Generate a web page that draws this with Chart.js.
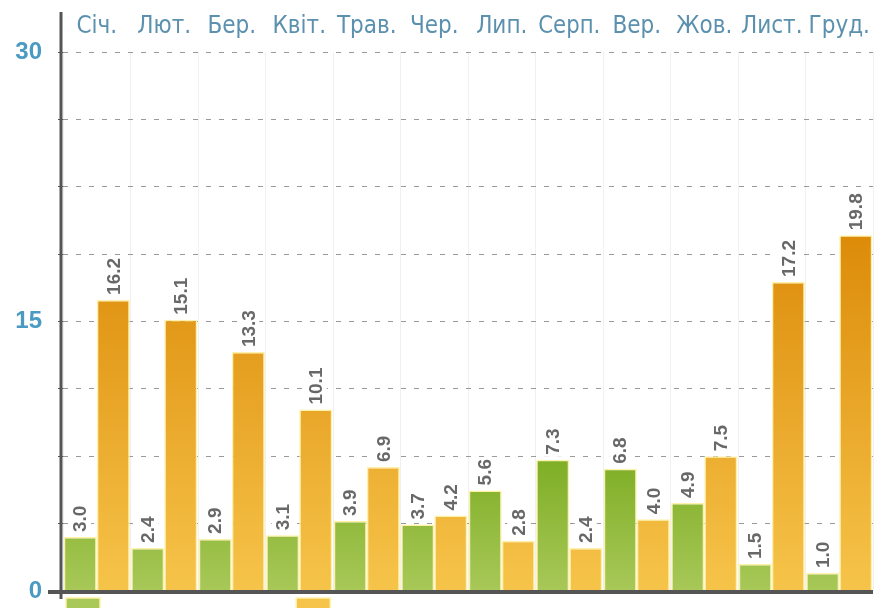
<!DOCTYPE html>
<html><head><meta charset="utf-8">
<script src="https://cdn.jsdelivr.net/npm/chart.js@4/dist/chart.umd.min.js"></script>
<style>
html,body{margin:0;padding:0;background:#fff;overflow:hidden;width:883px;height:608px;}
#wrap{position:absolute;left:0;top:0;width:883px;height:662px;}
</style></head>
<body>
<div id="wrap"><canvas id="c"></canvas></div>
<script>
const months = ['Січ.','Лют.','Бер.','Квіт.','Трав.','Чер.','Лип.','Серп.','Вер.','Жов.','Лист.','Груд.'];
const clearDays = [3.0, 2.4, 2.9, 3.1, 3.9, 3.7, 5.6, 7.3, 6.8, 4.9, 1.5, 1.0];
const cloudyDays = [16.2, 15.1, 13.3, 10.1, 6.9, 4.2, 2.8, 2.4, 4.0, 7.5, 17.2, 19.8];
const seriesNames = ['Кількість ясних днів', 'Кількість похмурих днів'];
const yTickLabels = [0, 15, 30];
const yMax = 30;
const gridStep = 3.75;

function greenFill(context) {
  const chart = context.chart, a = chart.chartArea;
  if (!a) return '#8bb535';
  const g = chart.ctx.createLinearGradient(0, 440, 0, a.bottom);
  g.addColorStop(0, '#78aa1e');
  g.addColorStop(1, '#a8c858');
  return g;
}
function orangeFill(context) {
  const chart = context.chart, a = chart.chartArea;
  if (!a) return '#e8a020';
  const g = chart.ctx.createLinearGradient(0, 230, 0, a.bottom);
  g.addColorStop(0, '#dc8a08');
  g.addColorStop(1, '#f6c44a');
  return g;
}

const decor = {
  id: 'decor',
  afterLayout(chart) {
    const lg = chart.legend, a = chart.chartArea;
    if (lg) {
      const dx = 53 - lg.left, dy = (a.bottom + 7 - 13) - lg.top;
      lg.left += dx; lg.right += dx; lg.top += dy; lg.bottom += dy;
    }
  },
  afterDatasetsDraw(chart) {
    const ctx = chart.ctx;
    ctx.save();
    ctx.font = 'bold 19px "Liberation Sans", Arial, sans-serif';
    chart.data.datasets.forEach((ds, di) => {
      chart.getDatasetMeta(di).data.forEach((bar, i) => {
        const txt = ds.data[i].toFixed(1);
        const w = ctx.measureText(txt).width;
        ctx.save();
        ctx.translate(bar.x, bar.y - 5);
        ctx.rotate(-Math.PI / 2);
        ctx.fillStyle = '#fff';
        ctx.fillRect(-2, -11, w + 4, 22);
        ctx.fillStyle = '#686868';
        ctx.textAlign = 'left';
        ctx.textBaseline = 'middle';
        ctx.fillText(txt, 0, 1);
        ctx.restore();
      });
    });
    ctx.restore();
  },
  afterDraw(chart) {
    const ctx = chart.ctx, a = chart.chartArea, x = chart.scales.x;
    ctx.save();
    ctx.font = '24px "DejaVu Sans Condensed", "Liberation Sans Narrow", sans-serif';
    ctx.fillStyle = '#5b90ae';
    ctx.textAlign = 'center';
    ctx.textBaseline = 'middle';
    months.forEach((m, i) => {
      const cx = x.getPixelForValue(i);
      const w = ctx.measureText(m).width;
      const sx = Math.min(1, 62 / w);
      ctx.save();
      ctx.translate(cx, a.top - 25);
      ctx.scale(sx, 1);
      ctx.fillText(m, 0, 0);
      ctx.restore();
    });
    ctx.strokeStyle = '#555';
    ctx.lineWidth = 3;
    ctx.beginPath();
    ctx.moveTo(a.left - 2, a.top - 40);
    ctx.lineTo(a.left - 2, a.bottom + 8);
    ctx.stroke();
    ctx.lineWidth = 4;
    ctx.beginPath();
    ctx.moveTo(a.left - 15, a.bottom + 1);
    ctx.lineTo(a.right, a.bottom + 1);
    ctx.stroke();
    ctx.restore();
  }
};

new Chart(document.getElementById('c'), {
  type: 'bar',
  data: {
    labels: months,
    datasets: [
      { label: seriesNames[0], data: clearDays, backgroundColor: greenFill, borderColor: '#fff2a8', borderWidth: 1.5 },
      { label: seriesNames[1], data: cloudyDays, backgroundColor: orangeFill, borderColor: '#fff2a8', borderWidth: 1.5 }
    ]
  },
  plugins: [decor],
  options: {
    responsive: true,
    maintainAspectRatio: false,
    animation: false,
    layout: { padding: { top: 52, right: 10, left: 0, bottom: 0 } },
    datasets: { bar: { categoryPercentage: 0.98, barPercentage: 1.0 } },
    plugins: {
      legend: {
        position: 'bottom',
        align: 'start',
        labels: { boxWidth: 34, boxHeight: 48, padding: 13, color: '#666', font: { size: 19 } }
      },
      tooltip: { enabled: false }
    },
    scales: {
      x: {
        grid: { display: true, offset: true, color: '#f0f0f0', drawTicks: false },
        border: { display: false },
        ticks: { display: false }
      },
      y: {
        min: 0, max: yMax,
        afterBuildTicks(scale) {
          const t = [];
          for (let v = 0; v <= yMax + 0.001; v += gridStep) t.push({ value: v });
          scale.ticks = t;
        },
        afterFit(scale) { scale.width = 63; },
        border: { display: false, dash: [5, 8] },
        grid: { color: '#9a9a9a', lineWidth: 1, tickLength: 5, tickColor: '#555', tickBorderDash: [] },
        ticks: {
          color: '#4a9ac2',
          font: { size: 24, weight: 'bold', family: '"Liberation Sans", Arial, sans-serif' },
          padding: 16,
          callback(v) { return yTickLabels.includes(v) ? String(v) : ''; }
        }
      }
    }
  }
});
</script>
</body></html>
